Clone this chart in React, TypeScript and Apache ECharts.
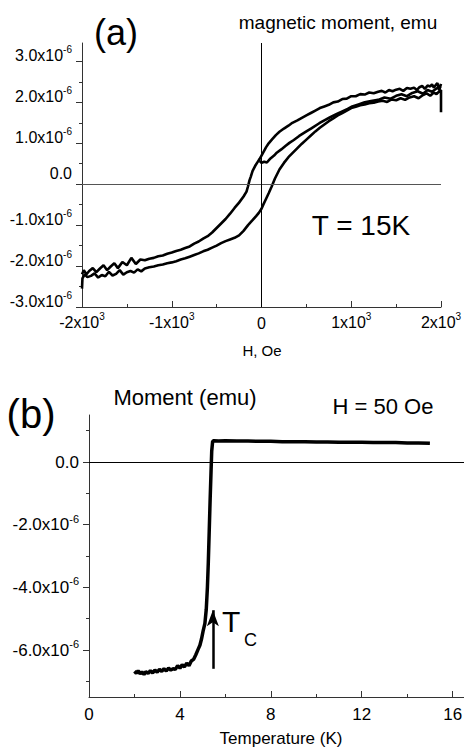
import React, { useEffect, useRef } from 'react';
import * as echarts from 'echarts';

const FONT = '"Liberation Sans", Arial, Helvetica, sans-serif';

// ---------- Panel (a): hysteresis at T = 15K (moment in units of 1e-6 emu) ----------
const fieldInitial = [-20, 0, 30, 60, 100, 140, 170, 220, 270, 311, 360, 420, 500, 560, 644, 700, 760, 833, 900, 960, 1011, 1080, 1150, 1220, 1300, 1370, 1440, 1500, 1560, 1620, 1680, 1740, 1800, 1850, 1900, 1950, 2000];
const momentInitial = [0.57, 0.52, 0.55, 0.53, 0.63, 0.70, 0.77, 0.85, 0.94, 1.01, 1.08, 1.18, 1.29, 1.37, 1.49, 1.56, 1.63, 1.71, 1.78, 1.84, 1.90, 1.95, 2.00, 2.03, 2.06, 2.12, 2.09, 2.16, 2.20, 2.15, 2.23, 2.27, 2.21, 2.30, 2.26, 2.34, 2.38];

const fieldDown = [2000, 1980, 1960, 1940, 1920, 1900, 1880, 1850, 1820, 1790, 1760, 1730, 1700, 1660, 1620, 1580, 1540, 1500, 1460, 1420, 1380, 1340, 1300, 1250, 1200, 1150, 1100, 1050, 1000, 950, 900, 850, 800, 750, 700, 650, 600, 550, 500, 450, 400, 344, 300, 250, 200, 160, 120, 80, 50, 20, 0, -20, -44, -70, -100, -120, -133, -150, -167, -200, -250, -300, -350, -400, -450, -500, -550, -600, -650, -700, -750, -800, -850, -900, -950, -1000, -1050, -1100, -1150, -1200, -1250, -1300, -1350, -1400, -1450, -1500, -1550, -1600, -1640, -1680, -1720, -1760, -1800, -1840, -1880, -1920, -1950, -1980, -2000];
const momentDown = [2.45, 2.30, 2.47, 2.42, 2.36, 2.44, 2.39, 2.41, 2.33, 2.40, 2.37, 2.30, 2.36, 2.33, 2.35, 2.28, 2.33, 2.31, 2.27, 2.30, 2.24, 2.28, 2.26, 2.22, 2.24, 2.19, 2.20, 2.15, 2.15, 2.09, 2.08, 2.02, 2.00, 1.94, 1.90, 1.86, 1.80, 1.74, 1.68, 1.62, 1.56, 1.50, 1.43, 1.36, 1.28, 1.20, 1.10, 1.00, 0.90, 0.78, 0.70, 0.62, 0.54, 0.45, 0.32, 0.18, 0.10, -0.05, -0.18, -0.30, -0.45, -0.58, -0.72, -0.85, -0.96, -1.07, -1.18, -1.27, -1.33, -1.40, -1.45, -1.52, -1.56, -1.60, -1.63, -1.67, -1.70, -1.74, -1.76, -1.80, -1.82, -1.86, -1.84, -1.95, -1.80, -1.98, -1.90, -2.05, -1.93, -2.01, -2.10, -1.98, -2.06, -2.15, -2.05, -2.12, -2.20, -2.10, -2.20];

const fieldUp = [-2000, -1995, -1970, -1940, -1900, -1860, -1820, -1780, -1740, -1700, -1660, -1620, -1580, -1540, -1500, -1460, -1420, -1380, -1340, -1300, -1250, -1200, -1150, -1100, -1050, -1000, -950, -900, -850, -800, -750, -700, -650, -600, -550, -500, -450, -400, -350, -300, -250, -200, -150, -100, -60, -30, 0, 20, 50, 80, 111, 150, 200, 250, 300, 350, 400, 450, 500, 550, 600, 650, 700, 750, 800, 850, 900, 950, 1000, 1050, 1100, 1150, 1200, 1250, 1300, 1350, 1400, 1450, 1500, 1550, 1600, 1650, 1700, 1750, 1800, 1840, 1880, 1920, 1950, 1980, 2000, 2000];
const momentUp = [-2.55, -2.30, -2.20, -2.27, -2.24, -2.18, -2.28, -2.22, -2.25, -2.14, -2.23, -2.19, -2.10, -2.21, -2.15, -2.12, -2.16, -2.08, -2.13, -2.06, -2.03, -2.01, -1.98, -1.96, -1.93, -1.91, -1.88, -1.84, -1.81, -1.77, -1.73, -1.69, -1.64, -1.60, -1.55, -1.50, -1.44, -1.39, -1.35, -1.31, -1.25, -1.14, -1.00, -0.88, -0.78, -0.70, -0.60, -0.50, -0.36, -0.22, -0.07, 0.14, 0.36, 0.52, 0.66, 0.77, 0.88, 0.99, 1.09, 1.19, 1.29, 1.38, 1.46, 1.54, 1.61, 1.68, 1.74, 1.80, 1.86, 1.89, 1.93, 1.95, 1.98, 1.99, 2.02, 2.04, 2.01, 2.07, 2.05, 2.10, 2.06, 2.12, 2.15, 2.10, 2.18, 2.22, 2.16, 2.24, 2.20, 2.27, 2.30, 1.76];

const fieldTicks = [-2000, -1000, 0, 1000, 2000];
const fieldMinorTicks = [-1500, -500, 500, 1500];
const momentATicks = [-3, -2, -1, 0, 1, 2, 3];
const momentAMinorTicks = [-2.5, -1.5, -0.5, 0.5, 1.5, 2.5];

// ---------- Panel (b): moment vs temperature at H = 50 Oe ----------
const temperature = [2.0, 2.08, 2.16, 2.25, 2.33, 2.42, 2.5, 2.6, 2.7, 2.8, 2.9, 3.0, 3.1, 3.2, 3.3, 3.4, 3.5, 3.6, 3.7, 3.8, 3.9, 4.0, 4.1, 4.2, 4.3, 4.4, 4.5, 4.6, 4.7, 4.8, 4.88, 4.95, 5.02, 5.1, 5.16, 5.21, 5.25, 5.29, 5.33, 5.37, 5.4, 5.44, 5.5, 5.7, 6.0, 6.5, 7, 7.5, 8, 8.5, 9, 9.5, 10, 10.5, 11, 11.5, 12, 12.5, 13, 13.5, 14, 14.5, 15.0];
const momentT = [-6.68, -6.74, -6.66, -6.76, -6.70, -6.78, -6.69, -6.75, -6.66, -6.73, -6.64, -6.71, -6.62, -6.68, -6.60, -6.67, -6.58, -6.64, -6.60, -6.62, -6.50, -6.58, -6.47, -6.54, -6.42, -6.50, -6.35, -6.30, -6.15, -5.98, -5.85, -5.65, -5.40, -5.15, -4.70, -4.00, -3.20, -2.20, -1.20, -0.30, 0.35, 0.66, 0.68, 0.67, 0.68, 0.67, 0.67, 0.66, 0.66, 0.65, 0.65, 0.65, 0.64, 0.64, 0.63, 0.63, 0.63, 0.62, 0.62, 0.62, 0.61, 0.61, 0.60];

const tempTicks = [0, 4, 8, 12, 16];
const tempMinorTicks = [2, 6, 10, 14];
const momentBTicks = [-6, -4, -2, 0];
const momentBMinorTicks = [-7, -5, -3, -1, 1];

// Tc arrow (data coordinates)
const tcArrowFrom = [5.45, -6.6];
const tcArrowTo = [5.45, -4.73];

const zip = (xs: number[], ys: number[]) => xs.map((x, i) => [x, ys[i]]);

const richFor = (size: number, supSize: number, lift: number) => ({
  b: { fontSize: size, fontFamily: FONT, color: '#000' },
  s: { fontSize: supSize, fontFamily: FONT, color: '#000', padding: [0, 0, lift, 0] },
  z: { fontSize: size, fontFamily: FONT, color: '#000', lineHeight: 24 },
  z2: { fontSize: size, fontFamily: FONT, color: '#000', lineHeight: 24, padding: [0, 0, 10, 0] },
});

const fmtField = (v: number) => (v === 0 ? '{z|0}' : `{b|${v / 1000}x10}{s|3}`);
const fmtMomentA = (v: number) => (v === 0 ? '{z2|0.0}' : `{b|${v.toFixed(1)}x10}{s|-6}`);
const fmtMomentB = (v: number) => (v === 0 ? '{b|0.0}' : `{b|${v.toFixed(1)}x10}{s|-6}`);

const axisColor = '#333';

function mainAxis(opts: any) {
  const { gridIndex, min, max, ticks, formatter, rich, inside, margin, position, labelPadding, fontSize } = opts;
  return {
    type: 'value',
    gridIndex,
    min,
    max,
    position,
    splitLine: { show: false },
    axisLine: { show: true, onZero: false, lineStyle: { color: axisColor, width: 1 } },
    axisTick: { show: true, inside, length: 6, customValues: ticks, lineStyle: { color: axisColor, width: 1 } },
    axisLabel: {
      show: true,
      customValues: ticks,
      formatter,
      rich,
      margin,
      padding: labelPadding,
      fontSize,
      fontFamily: FONT,
      color: '#000',
    },
  };
}

function minorAxis(opts: any) {
  const { gridIndex, min, max, ticks, inside, position } = opts;
  return {
    type: 'value',
    gridIndex,
    min,
    max,
    position,
    splitLine: { show: false },
    axisLine: { show: false, onZero: false },
    axisTick: { show: true, inside, length: 3, customValues: ticks, lineStyle: { color: axisColor, width: 1 } },
    axisLabel: { show: false },
  };
}

const text = (t: string, x: number, y: number, size: number, align = 'center') => ({
  type: 'text',
  x,
  y,
  silent: true,
  style: {
    text: t,
    fontSize: size,
    fontFamily: FONT,
    fill: '#000',
    align,
    verticalAlign: 'middle',
    textAlign: align,
    textVerticalAlign: 'middle',
  },
});

export default function App() {
  const ref = useRef<HTMLDivElement>(null);

  useEffect(() => {
    if (!ref.current) return;
    const chart = echarts.init(ref.current, undefined, { renderer: 'svg' });
    const richA = richFor(16, 10, 12);
    const richB = richFor(17, 11, 12);
    const lineA = { color: '#000', width: 2.6 };

    const option: any = {
      animation: false,
      backgroundColor: '#fff',
      grid: [
        { left: 82, top: 43, width: 359, height: 264, containLabel: false, outerBoundsMode: 'none' },
        { left: 89, top: 415, width: 375, height: 282, containLabel: false, outerBoundsMode: 'none' },
      ],
      xAxis: [
        mainAxis({ gridIndex: 0, min: -2000, max: 2000, ticks: fieldTicks, formatter: fmtField, rich: richA, inside: true, margin: 4, position: 'bottom', fontSize: 16 }),
        minorAxis({ gridIndex: 0, min: -2000, max: 2000, ticks: fieldMinorTicks, inside: true, position: 'bottom' }),
        mainAxis({ gridIndex: 1, min: 0, max: 16.5, ticks: tempTicks, formatter: (v: number) => `{z|${v}}`, rich: richB, inside: true, margin: 5, position: 'bottom', fontSize: 17 }),
        minorAxis({ gridIndex: 1, min: 0, max: 16.5, ticks: tempMinorTicks, inside: true, position: 'bottom' }),
      ],
      yAxis: [
        mainAxis({ gridIndex: 0, min: -3, max: 3.45, ticks: momentATicks, formatter: fmtMomentA, rich: richA, inside: false, margin: 10, position: 'left', labelPadding: [0, 0, 12, 0], fontSize: 16 }),
        minorAxis({ gridIndex: 0, min: -3, max: 3.45, ticks: momentAMinorTicks, inside: false, position: 'left' }),
        mainAxis({ gridIndex: 1, min: -7.5, max: 1.5, ticks: momentBTicks, formatter: fmtMomentB, rich: richB, inside: false, margin: 10, position: 'left', fontSize: 17 }),
        minorAxis({ gridIndex: 1, min: -7.5, max: 1.5, ticks: momentBMinorTicks, inside: false, position: 'left' }),
      ],
      series: [
        {
          type: 'line',
          name: 'initial',
          xAxisIndex: 0,
          yAxisIndex: 0,
          data: zip(fieldInitial, momentInitial),
          showSymbol: false,
          symbol: 'none',
          lineStyle: lineA,
          silent: true,
          markLine: {
            silent: true,
            symbol: ['none', 'none'],
            animation: false,
            label: { show: false },
            data: [
              { yAxis: 0, lineStyle: { color: '#555', width: 1, type: 'solid' } },
              { xAxis: 0, lineStyle: { color: '#000', width: 1, type: 'solid' } },
            ],
          },
        },
        {
          type: 'line',
          name: 'decreasing',
          xAxisIndex: 0,
          yAxisIndex: 0,
          data: zip(fieldDown, momentDown),
          showSymbol: false,
          symbol: 'none',
          lineStyle: lineA,
          silent: true,
        },
        {
          type: 'line',
          name: 'increasing',
          xAxisIndex: 0,
          yAxisIndex: 0,
          data: zip(fieldUp, momentUp),
          showSymbol: false,
          symbol: 'none',
          lineStyle: lineA,
          silent: true,
        },
        {
          type: 'line',
          name: 'M(T)',
          xAxisIndex: 2,
          yAxisIndex: 2,
          data: zip(temperature, momentT),
          showSymbol: false,
          symbol: 'none',
          lineStyle: { color: '#000', width: 3.5 },
          silent: true,
          markLine: {
            silent: true,
            animation: false,
            symbol: ['none', 'none'],
            label: { show: false },
            data: [
              { yAxis: 0, lineStyle: { color: '#000', width: 1, type: 'solid' } },
              [
                { coord: tcArrowFrom, symbol: 'none', lineStyle: { color: '#000', width: 2.5, type: 'solid' } },
                { coord: tcArrowTo, symbol: 'arrow', symbolSize: [9, 16] },
              ],
            ],
          },
        },
      ],
      graphic: [
        text('(a)', 116, 32, 36),
        text('magnetic moment, emu', 338, 22, 19),
        text('T = 15K', 361, 225, 28),
        text('H, Oe', 262, 350, 15),
        text('(b)', 31, 414, 40),
        text('Moment (emu)', 185, 397, 22),
        text('H = 50 Oe', 383, 406, 22),
        text('Temperature (K)', 281, 738, 17),
        text('T', 222, 621, 30, 'left'),
        text('C', 244, 640, 18, 'left'),
      ],
    };

    chart.setOption(option);
    return () => chart.dispose();
  }, []);

  return (
    <div
      ref={ref}
      style={{ position: 'fixed', left: 0, top: 0, width: 464, height: 748, background: '#fff' }}
    />
  );
}
